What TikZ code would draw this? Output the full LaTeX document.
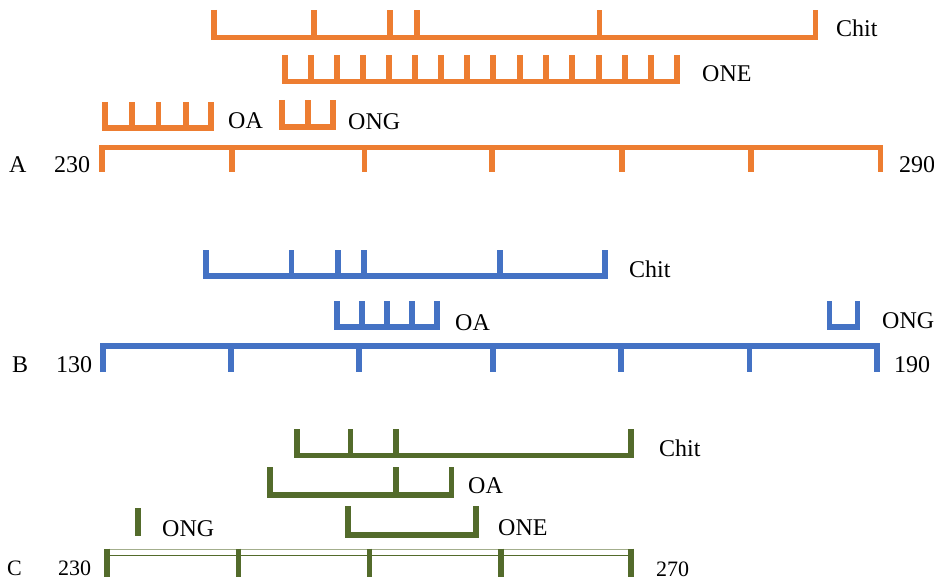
\documentclass[tikz,border=0pt]{standalone}
\usepackage{fontspec}
\setmainfont{Liberation Serif}
\definecolor{orng}{HTML}{ED7D31}
\definecolor{blu}{HTML}{4472C4}
\definecolor{olv}{HTML}{536B2B}
\definecolor{olvlight}{HTML}{A3AE8C}
% comb: style, base y, tip y, first x, last x, inner teeth x list
\newcommand\combrow[6]{%
  \draw[#1] (#4,#3) -- (#4,#2) -- (#5,#2) -- (#5,#3);
  \foreach \cx in {#6} {\draw[#1] (\cx,#2) -- (\cx,#3);}
}
\tikzset{
  rowA/.style={draw=orng, line width=5.5pt, line join=miter},
  rowB/.style={draw=blu, line width=5.5pt, line join=miter},
  rowC/.style={draw=olv, line width=5.5pt, line join=miter},
  lbl/.style={anchor=base west, inner sep=0pt, font=\fontsize{24}{28}\selectfont},
  lblsm/.style={anchor=base west, inner sep=0pt, font=\fontsize{22}{26}\selectfont},
}
\begin{document}
\begin{tikzpicture}[x=1pt, y=-1pt]
\useasboundingbox (0,0) rectangle (934,580);

% ---------- A ----------
\combrow{rowA}{37.5}{10}{214}{815.5}{314,390,417,599.5}
\combrow{rowA}{81.5}{55}{285}{677}{311,337,363,389,415,441,467,493,520,546,572,599,625,651}
\combrow{rowA}{128}{102}{105}{211}{132,158.5,186}
\combrow{rowA}{127}{100}{282}{333}{308}
\combrow{rowA}{147.5}{172}{102}{880.5}{232,364.5,492,622,751}
\node[lbl] (aChit) at (836,37) {Chit};
\node[lbl] (aONE)  at (702,82) {ONE};
\node[lbl] (aOA)   at (228,129) {OA};
\node[lbl] (aONG)  at (348,130) {ONG};
\node[lbl] (aName) at (9,173) {A};
\node[lbl] (aLo)   at (54,173) {230};
\node[lbl] (aHi)   at (899,173) {290};

% ---------- B ----------
\combrow{rowB}{276}{250}{206}{605}{291.5,338,364,500}
\combrow{rowB}{327}{301}{337}{437}{362,387,412}
\combrow{rowB}{327}{301}{829.5}{857.5}{}
\combrow{rowB}{346}{372}{103}{877}{231,359,493,621,749.5}
\node[lbl] (bChit) at (629,277) {Chit};
\node[lbl] (bOA)   at (455,330) {OA};
\node[lbl] (bONG)  at (882,328) {ONG};
\node[lbl] (bName) at (12,372) {B};
\node[lbl] (bLo)   at (56,372) {130};
\node[lbl] (bHi)   at (894,372) {190};

% ---------- C ----------
\combrow{rowC}{455.5}{429}{297}{631}{350.5,396}
\combrow{rowC}{495}{467}{270}{451.5}{396}
\combrow{rowC}{535}{506}{348}{476}{}
\draw[rowC] (138,508) -- (138,536);
% scale: two thin rules with ticks hanging below
\draw[draw=olvlight, line width=1.2pt] (107,549.5) -- (631,549.5);
\draw[draw=olv, line width=1.3pt] (107,555.3) -- (631,555.3);
\foreach \cx in {107,238.5,369.5,501,631} {\draw[rowC] (\cx,548.5) -- (\cx,577);}
\node[lblsm] (cName) at (7,575) {C};
\node[lblsm] (cLo)   at (58,575) {230};
\node[lblsm] (cHi)   at (656,576) {270};
\node[lbl] (cChit) at (659,456) {Chit};
\node[lbl] (cOA)   at (468,493) {OA};
\node[lbl] (cONE)  at (498,535) {ONE};
\node[lbl] (cONG)  at (162,536) {ONG};
\end{tikzpicture}
\end{document}
